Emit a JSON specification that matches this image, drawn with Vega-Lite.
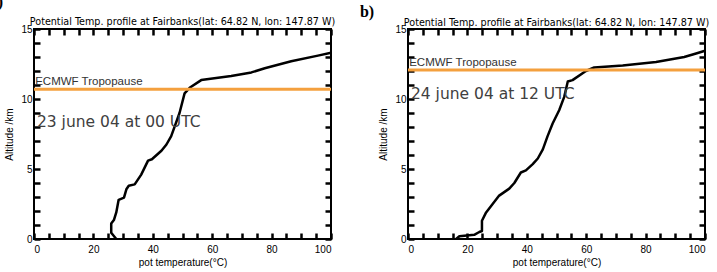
{
  "$schema": "https://vega.github.io/schema/vega-lite/v6.json",
  "background": "white",
  "padding": {"left": -12, "top": -7, "right": 0, "bottom": 0},
  "bounds": "flush",
  "spacing": 77,
  "config": {
    "view": {"stroke": "black", "strokeWidth": 2},
    "font": "Liberation Sans",
    "axis": {
      "grid": false,
      "zindex": 2,
      "domain": false,
      "ticks": true,
      "tickColor": "#000000",
      "tickOpacity": 1,
      "tickWidth": 2.5,
      "labelFont": "Liberation Sans",
      "labelFontSize": 10,
      "labelColor": "black",
      "titleFont": "Liberation Sans",
      "titleFontSize": 10,
      "titleFontWeight": "normal",
      "titleColor": "black"
    },
    "title": {"font": "DejaVu Sans", "fontSize": 9.6, "fontWeight": "normal", "color": "black", "offset": 0, "frame": "group"}
  },
  "datasets": {
    "profA": [
      {"T": 27.7, "z": 0.0},
      {"T": 26.0, "z": 0.45},
      {"T": 26.0, "z": 1.1},
      {"T": 26.9, "z": 1.35},
      {"T": 27.7, "z": 1.9},
      {"T": 28.5, "z": 2.8},
      {"T": 30.3, "z": 2.95},
      {"T": 31.1, "z": 3.55},
      {"T": 31.9, "z": 3.8},
      {"T": 33.9, "z": 3.9},
      {"T": 36.1, "z": 4.6},
      {"T": 38.4, "z": 5.6},
      {"T": 39.7, "z": 5.7},
      {"T": 42.9, "z": 6.3},
      {"T": 44.6, "z": 6.75},
      {"T": 46.2, "z": 7.35},
      {"T": 49.0, "z": 9.0},
      {"T": 50.7, "z": 10.4},
      {"T": 52.4, "z": 10.8},
      {"T": 56.3, "z": 11.35},
      {"T": 66.4, "z": 11.65},
      {"T": 73.2, "z": 11.9},
      {"T": 77.7, "z": 12.2},
      {"T": 86.6, "z": 12.7},
      {"T": 95.6, "z": 13.1},
      {"T": 100.0, "z": 13.3}
    ],
    "profB": [
      {"T": 16.2, "z": 0.0},
      {"T": 17.3, "z": 0.2},
      {"T": 22.3, "z": 0.3},
      {"T": 24.0, "z": 0.5},
      {"T": 24.9, "z": 0.57},
      {"T": 24.9, "z": 1.3},
      {"T": 26.3, "z": 1.9},
      {"T": 28.5, "z": 2.5},
      {"T": 30.7, "z": 3.1},
      {"T": 32.4, "z": 3.35},
      {"T": 34.1, "z": 3.6},
      {"T": 35.8, "z": 4.0},
      {"T": 38.0, "z": 4.75},
      {"T": 39.7, "z": 4.9},
      {"T": 42.0, "z": 5.35},
      {"T": 43.7, "z": 5.75},
      {"T": 45.4, "z": 6.4},
      {"T": 47.0, "z": 7.35},
      {"T": 48.7, "z": 8.25},
      {"T": 50.9, "z": 9.2},
      {"T": 52.6, "z": 10.15},
      {"T": 53.8, "z": 11.25},
      {"T": 55.4, "z": 11.35},
      {"T": 59.9, "z": 12.0},
      {"T": 62.7, "z": 12.25},
      {"T": 72.3, "z": 12.4},
      {"T": 83.5, "z": 12.65},
      {"T": 93.0, "z": 13.0},
      {"T": 97.0, "z": 13.25},
      {"T": 100.0, "z": 13.45}
    ]
  },
  "hconcat": [
    {
      "width": 297,
      "height": 210,
      "title": {"text": "Potential Temp. profile at Fairbanks(lat: 64.82 N, lon: 147.87 W)", "dy": 36},
      "resolve": {"axis": {"x": "independent", "y": "independent"}},
      "layer": [
        {
          "data": {"name": "profA"},
          "mark": {"type": "line", "color": "black", "strokeWidth": 2.5, "strokeJoin": "round"},
          "encoding": {
            "x": {"field": "T", "type": "quantitative", "scale": {"domain": [0, 100], "nice": false},
              "axis": {"orient": "bottom", "title": "pot temperature(°C)", "values": [0,20,40,60,80,100], "ticks": false, "tickSize": 0, "labelPadding": 5, "titlePadding": 3}},
            "y": {"field": "z", "type": "quantitative", "scale": {"domain": [0, 15], "nice": false},
              "axis": {"orient": "left", "title": "Altitude /km", "values": [0,5,10,15], "ticks": false, "tickSize": 0, "labelPadding": 2, "titlePadding": 6}},
            "order": {"field": "z", "type": "quantitative"}
          }
        },
        {
          "data": {"values": [{"T": 0, "z": 10.7}, {"T": 100, "z": 10.7}]},
          "mark": {"type": "line", "color": "#f4a03e", "strokeWidth": 3},
          "encoding": {
            "x": {"field": "T", "type": "quantitative", "scale": {"domain": [0, 100], "nice": false},
              "axis": {"orient": "top", "offset": -210, "ticks": true, "title": null, "labels": false, "values": [0,5,10,15,20,25,30,35,40,45,50,55,60,65,70,75,80,85,90,95,100], "tickSize": 6}},
            "y": {"field": "z", "type": "quantitative", "scale": {"domain": [0, 15], "nice": false},
              "axis": {"orient": "right", "offset": -297, "ticks": true, "title": null, "labels": false, "values": [0,1,2,3,4,5,6,7,8,9,10,11,12,13,14,15], "tickSize": 6}}
          }
        },
        {
          "data": {"values": [{"T": 0.4, "z": 10.85, "label": "ECMWF Tropopause"}]},
          "mark": {"type": "text", "align": "left", "baseline": "bottom", "fontSize": 11.5, "color": "#333333"},
          "encoding": {
            "x": {"field": "T", "type": "quantitative", "scale": {"domain": [0, 100], "nice": false},
              "axis": {"orient": "bottom", "offset": -210, "ticks": true, "title": null, "labels": false, "values": [0,5,10,15,20,25,30,35,40,45,50,55,60,65,70,75,80,85,90,95,100], "tickSize": 6}},
            "y": {"field": "z", "type": "quantitative", "scale": {"domain": [0, 15], "nice": false},
              "axis": {"orient": "left", "offset": -297, "ticks": true, "title": null, "labels": false, "values": [0,1,2,3,4,5,6,7,8,9,10,11,12,13,14,15], "tickSize": 6}},
            "text": {"field": "label"}
          }
        },
        {
          "data": {"values": [{"T": 1.0, "z": 8.36, "label": "23 june 04 at 00 UTC"}]},
          "mark": {"type": "text", "align": "left", "baseline": "middle", "fontSize": 15.5, "font": "DejaVu Sans", "color": "#404040"},
          "encoding": {
            "x": {"field": "T", "type": "quantitative", "scale": {"domain": [0, 100], "nice": false}, "axis": null},
            "y": {"field": "z", "type": "quantitative", "scale": {"domain": [0, 15], "nice": false}, "axis": null},
            "text": {"field": "label"}
          }
        },
        {
          "data": {"values": [{"T": -10.4, "z": 16.9, "label": "a)"}]},
          "mark": {"type": "text", "align": "right", "baseline": "middle", "fontSize": 16, "font": "Liberation Serif", "fontWeight": "bold", "color": "black", "clip": false},
          "encoding": {
            "x": {"field": "T", "type": "quantitative", "scale": {"domain": [0, 100], "nice": false}, "axis": null},
            "y": {"field": "z", "type": "quantitative", "scale": {"domain": [0, 15], "nice": false}, "axis": null},
            "text": {"field": "label"}
          }
        }
      ]
    },
    {
      "width": 297,
      "height": 210,
      "title": {"text": "Potential Temp. profile at Fairbanks(lat: 64.82 N, lon: 147.87 W)", "dy": 27},
      "resolve": {"axis": {"x": "independent", "y": "independent"}},
      "layer": [
        {
          "data": {"name": "profB"},
          "mark": {"type": "line", "color": "black", "strokeWidth": 2.5, "strokeJoin": "round"},
          "encoding": {
            "x": {"field": "T", "type": "quantitative", "scale": {"domain": [0, 100], "nice": false},
              "axis": {"orient": "bottom", "title": "pot temperature(°C)", "values": [0,20,40,60,80,100], "ticks": false, "tickSize": 0, "labelPadding": 5, "titlePadding": 3}},
            "y": {"field": "z", "type": "quantitative", "scale": {"domain": [0, 15], "nice": false},
              "axis": {"orient": "left", "title": "Altitude /km", "values": [0,5,10,15], "ticks": false, "tickSize": 0, "labelPadding": 2, "titlePadding": 6}},
            "order": {"field": "z", "type": "quantitative"}
          }
        },
        {
          "data": {"values": [{"T": 0, "z": 12.07}, {"T": 100, "z": 12.07}]},
          "mark": {"type": "line", "color": "#f4a03e", "strokeWidth": 3},
          "encoding": {
            "x": {"field": "T", "type": "quantitative", "scale": {"domain": [0, 100], "nice": false},
              "axis": {"orient": "top", "offset": -210, "ticks": true, "title": null, "labels": false, "values": [0,5,10,15,20,25,30,35,40,45,50,55,60,65,70,75,80,85,90,95,100], "tickSize": 6}},
            "y": {"field": "z", "type": "quantitative", "scale": {"domain": [0, 15], "nice": false},
              "axis": {"orient": "right", "offset": -297, "ticks": true, "title": null, "labels": false, "values": [0,1,2,3,4,5,6,7,8,9,10,11,12,13,14,15], "tickSize": 6}}
          }
        },
        {
          "data": {"values": [{"T": 0.4, "z": 12.2, "label": "ECMWF Tropopause"}]},
          "mark": {"type": "text", "align": "left", "baseline": "bottom", "fontSize": 11.5, "color": "#333333"},
          "encoding": {
            "x": {"field": "T", "type": "quantitative", "scale": {"domain": [0, 100], "nice": false},
              "axis": {"orient": "bottom", "offset": -210, "ticks": true, "title": null, "labels": false, "values": [0,5,10,15,20,25,30,35,40,45,50,55,60,65,70,75,80,85,90,95,100], "tickSize": 6}},
            "y": {"field": "z", "type": "quantitative", "scale": {"domain": [0, 15], "nice": false},
              "axis": {"orient": "left", "offset": -297, "ticks": true, "title": null, "labels": false, "values": [0,1,2,3,4,5,6,7,8,9,10,11,12,13,14,15], "tickSize": 6}},
            "text": {"field": "label"}
          }
        },
        {
          "data": {"values": [{"T": 1.0, "z": 10.36, "label": "24 june 04 at 12 UTC"}]},
          "mark": {"type": "text", "align": "left", "baseline": "middle", "fontSize": 15.5, "font": "DejaVu Sans", "color": "#404040"},
          "encoding": {
            "x": {"field": "T", "type": "quantitative", "scale": {"domain": [0, 100], "nice": false}, "axis": null},
            "y": {"field": "z", "type": "quantitative", "scale": {"domain": [0, 15], "nice": false}, "axis": null},
            "text": {"field": "label"}
          }
        },
        {
          "data": {"values": [{"T": -16.2, "z": 16.2, "label": "b)"}]},
          "mark": {"type": "text", "align": "left", "baseline": "middle", "fontSize": 16, "font": "Liberation Serif", "fontWeight": "bold", "color": "black", "clip": false},
          "encoding": {
            "x": {"field": "T", "type": "quantitative", "scale": {"domain": [0, 100], "nice": false}, "axis": null},
            "y": {"field": "z", "type": "quantitative", "scale": {"domain": [0, 15], "nice": false}, "axis": null},
            "text": {"field": "label"}
          }
        }
      ]
    }
  ]
}
